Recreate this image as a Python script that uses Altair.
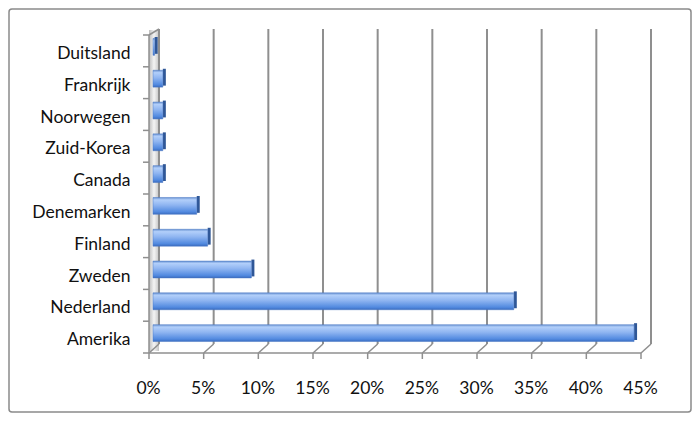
import altair as alt
import pandas as pd

countries = ["Duitsland", "Frankrijk", "Noorwegen", "Zuid-Korea", "Canada",
             "Denemarken", "Finland", "Zweden", "Nederland", "Amerika"]
values = [0.15, 0.9, 0.9, 0.9, 0.9, 4.0, 5.0, 9.0, 33.0, 44.0]
tick_values = [0, 5, 10, 15, 20, 25, 30, 35, 40, 45]

W, H = 492, 318
FONT = "Lato"

bars_df = pd.DataFrame({"country": countries, "value": values})
ticks_df = pd.DataFrame({"t": tick_values})
one = pd.DataFrame({"a": [0]})

xscale = alt.Scale(domain=[0, 45], nice=False, zero=True)
yscale = alt.Scale(domain=countries, paddingInner=0.47, paddingOuter=0.235)

GRID = "#8f8f8f"

frame = alt.Chart(one).mark_rect(fill="transparent", stroke="#8a8a8a", strokeWidth=1.5,
                                  cornerRadius=3).encode(
    x=alt.value(-144), x2=alt.value(538), y=alt.value(-22), y2=alt.value(381))

left_wall = alt.Chart(one).mark_rect(
    xOffset=-4, x2Offset=6,
    fill=alt.Gradient(gradient="linear", x1=0, y1=0, x2=1, y2=0,
                      stops=[alt.GradientStop(color="#bdbdbd", offset=0),
                             alt.GradientStop(color="#f4f4f4", offset=0.5),
                             alt.GradientStop(color="#c4c4c4", offset=1)])
).encode(x=alt.datum(0, scale=xscale), x2=alt.datum(0), y=alt.value(-1), y2=alt.value(320))

gridlines = alt.Chart(ticks_df).mark_rule(color=GRID, strokeWidth=2, xOffset=6).encode(
    x=alt.X("t:Q", scale=xscale,
            axis=alt.Axis(values=tick_values, grid=False, domain=False, ticks=False,
                          labelExpr="datum.value + '%'", labelFont=FONT, labelFontSize=17.5,
                          labelColor="#111111", labelPadding=30, labelOffset=-5,
                          labelFlush=False, labelBound=False, labelOverlap=False,
                          title=None)),
    y=alt.value(-2), y2=alt.value(313))

floor = alt.Chart(ticks_df).mark_rule(color=GRID, strokeWidth=1.5, xOffset=-4, x2Offset=6).encode(
    x=alt.X("t:Q", scale=xscale), x2="t:Q", y=alt.value(322), y2=alt.value(313))

front_ticks = alt.Chart(ticks_df).mark_rule(color=GRID, strokeWidth=1.5, xOffset=-4).encode(
    x=alt.X("t:Q", scale=xscale), y=alt.value(322), y2=alt.value(328))

front_base = alt.Chart(one).mark_rule(color=GRID, strokeWidth=1.5, xOffset=-4, x2Offset=-4).encode(
    x=alt.datum(0, scale=xscale), x2=alt.datum(45), y=alt.value(322))

left_front = alt.Chart(one).mark_rule(color=GRID, strokeWidth=1.5, xOffset=-4).encode(
    x=alt.datum(0, scale=xscale), y=alt.value(4), y2=alt.value(322))

left_top = alt.Chart(one).mark_rule(color=GRID, strokeWidth=1.5, xOffset=-4, x2Offset=6).encode(
    x=alt.datum(0, scale=xscale), x2=alt.datum(0), y=alt.value(4), y2=alt.value(-2))

ytick = alt.Chart(bars_df).mark_rule(color=GRID, strokeWidth=1.5, yOffset=-11.9).encode(
    y=alt.Y("country:N", scale=yscale, bandPosition=0.5),
    x=alt.value(-10), x2=alt.value(-4))

ytick_last = alt.Chart(one).mark_rule(color=GRID, strokeWidth=1.5).encode(
    x=alt.value(-10), x2=alt.value(-4), y=alt.value(322))

bar_fill = alt.Gradient(gradient="linear", x1=0, y1=0, x2=0, y2=1,
                        stops=[alt.GradientStop(color="#6a93d2", offset=0),
                               alt.GradientStop(color="#b2cffa", offset=0.14),
                               alt.GradientStop(color="#8fb5f1", offset=0.45),
                               alt.GradientStop(color="#528ae0", offset=0.85),
                               alt.GradientStop(color="#3a6cc0", offset=1)])

bars = alt.Chart(bars_df).mark_bar(fill=bar_fill, stroke="#4a78c4", strokeWidth=0.5).encode(
    y=alt.Y("country:N", scale=yscale, sort=countries, title=None,
            axis=alt.Axis(domain=False, ticks=False, labelFont=FONT, labelFontSize=17.5,
                          labelColor="#111111", labelPadding=23, labelOffset=7)),
    x=alt.X("value:Q", scale=xscale))

caps = alt.Chart(bars_df).mark_bar(fill="#2f5797", x2Offset=3, yOffset=-1.5).encode(
    y=alt.Y("country:N", scale=yscale, sort=countries),
    x=alt.X("value:Q", scale=xscale), x2="value:Q")

chart = alt.layer(
    frame, left_wall, gridlines, floor, front_ticks, front_base, left_front, left_top,
    ytick, ytick_last, caps, bars
).properties(
    width=W, height=H,
    padding={"left": 145, "top": 23, "right": 47, "bottom": 64},
    autosize=alt.AutoSizeParams(type="none"),
    background="white",
).configure_view(stroke=None)

chart.save("out.html", embed_options={"renderer": "svg", "actions": False})
